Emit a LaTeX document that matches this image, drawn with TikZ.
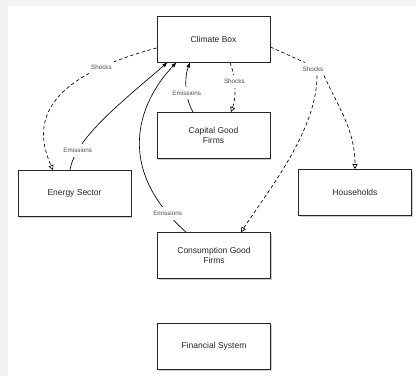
\documentclass[tikz,border=0pt]{standalone}
\usepackage{fontspec}
\setmainfont{Liberation Sans}
\usetikzlibrary{arrows.meta,shadows}
\begin{document}
\begin{tikzpicture}[x=1pt,y=-1pt,
  box/.style={draw=black!85, line width=0.8pt, fill=white, minimum width=113pt, minimum height=46pt, align=center, font=\fontsize{8.5}{10}\selectfont, text=black!85, drop shadow={shadow xshift=1.2pt, shadow yshift=-1.2pt, opacity=0.4}},
  lbl/.style={fill=white, inner xsep=2pt, inner ysep=4pt, font=\fontsize{6.3}{7}\selectfont, text=black!70},
  emis/.style={draw=black, line width=0.65pt, -{Latex[length=5pt,width=4pt]}},
  shockline/.style={draw=black, line width=0.65pt, dash pattern=on 3.5pt off 2.5pt},
  shock/.style={shockline, -{Triangle[open,length=5pt,width=5pt]}}]
\fill[black!5] (0,0) rectangle (416,376);
\fill[white] (8,6) rectangle (416,376);
\useasboundingbox (0,0) rectangle (416,376);

\node[box] (climate) at (213.5,39) {Climate Box};
\node[box] (capital) at (213.5,135.5) {Capital Good\\Firms};
\node[box] (energy) at (74.5,193.5) {Energy Sector};
\node[box] (households) at (355,192.5) {Households};
\node[box] (consumption) at (214,255.5) {Consumption Good\\Firms};
\node[box] (financial) at (214,346.5) {Financial System};

% Shocks climate -> energy
\draw[shock] ([yshift=-9pt]climate.west) .. controls (40,79) and (33,125) .. ([xshift=-21.5pt]energy.north) node[lbl,pos=0.19] {Shocks};
% Emissions energy -> climate
\draw[emis] ([xshift=-4.5pt]energy.north) .. controls (75,138) and (123,101) .. ([xshift=-46pt]climate.south) node[lbl,pos=0.2] {Emissions};
% Emissions consumption -> climate
\draw[emis] ([xshift=-28pt]consumption.north) .. controls (116,170) and (136,105) .. ([xshift=-37pt]climate.south) node[lbl,pos=0.1] {Emissions};
% Emissions capital -> climate
\draw[emis] ([xshift=-20.5pt]capital.north) .. controls (185,98) and (184,78) .. ([xshift=-23.5pt]climate.south) node[lbl,pos=0.4] {Emissions};
% Shocks climate -> capital
\draw[shock] ([xshift=16.5pt]climate.south) .. controls (235,75) and (237,95) .. ([xshift=17.5pt]capital.north) node[lbl,pos=0.42] {Shocks};

% Shocks climate -> households / consumption
\node[lbl] (shk) at (313,69) {Shocks};
\draw[shockline] ([yshift=-8pt]climate.east) -- ([xshift=-8pt]shk.north);
\draw[shock] ([xshift=11pt]shk.south) .. controls (338,107) and (355,129) .. (households.north);
\draw[shock] ([xshift=4pt]shk.south) .. controls (317,129) and (271,187) .. ([xshift=27pt]consumption.north);
\end{tikzpicture}
\end{document}
